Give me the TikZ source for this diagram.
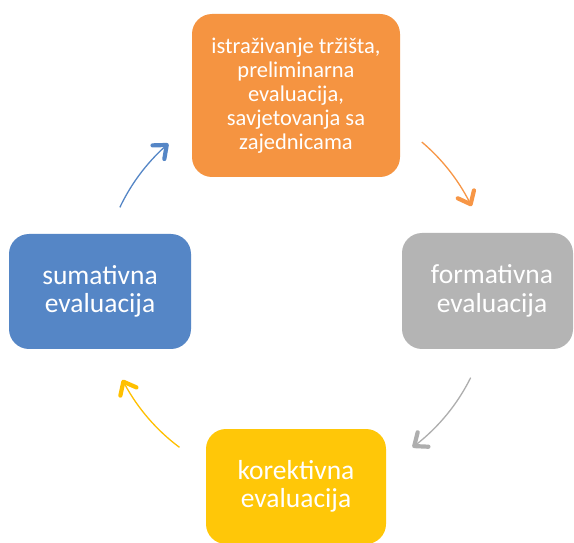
\documentclass[tikz,border=0pt]{standalone}
\usepackage{fontspec}
\setmainfont{Carlito}
\usetikzlibrary{arrows.meta,bending}
\definecolor{cOrange}{HTML}{F59441}
\definecolor{cGray}{HTML}{B4B4B4}
\definecolor{cYellow}{HTML}{FFC708}
\definecolor{cBlue}{HTML}{5586C6}
\definecolor{aOrange}{HTML}{F79646}
\definecolor{aGray}{HTML}{AEAEAE}
\definecolor{aYellow}{HTML}{FFC000}
\definecolor{aBlue}{HTML}{5586C6}
\begin{document}
\begin{tikzpicture}[x=1pt,y=1pt,
  box/.style={draw=none, rounded corners=20pt, inner sep=0pt, align=center, text=white},
  bigtxt/.style={font=\fontsize{27.5}{28.5}\selectfont},
  smalltxt/.style={font=\fontsize{22.5}{24}\selectfont},
  cyc/.style={line width=1.3pt, -{Straight Barb[length=11pt,width=18pt,line width=4.2pt,round,flex]}}]
\useasboundingbox (0,0) rectangle (574,542);
\clip (0,0) rectangle (574,542);
\fill[white] (0,0) rectangle (574,542);

\node[box, smalltxt, fill=cOrange, minimum width=208pt, minimum height=163pt] (top) at (296,446.5)
  {istraživanje tržišta,\\preliminarna\\evaluacija,\\savjetovanja sa\\zajednicama};
\node[box, bigtxt, fill=cGray, minimum width=171pt, minimum height=116pt] (right) at (487.5,251)
  {\hspace*{9pt}formativna\\\hspace*{9pt}evaluacija};
\node[box, bigtxt, fill=cYellow, minimum width=180pt, minimum height=115pt] (bottom) at (296,55.5)
  {korektivna\\evaluacija};
\node[box, bigtxt, fill=cBlue, minimum width=182pt, minimum height=115pt] (left) at (100,250.5)
  {sumativna\\evaluacija};

\coordinate (C) at (296,251);
\draw[cyc, aOrange] (C) ++(49.8:195) arc[start angle=49.8, end angle=25.8, radius=195];
\draw[cyc, aGray] (C) ++(-26.4:195) arc[start angle=-26.4, end angle=-53.3, radius=195];
\draw[cyc, aYellow] (C) ++(-126.7:195) arc[start angle=-126.7, end angle=-152.9, radius=195];
\draw[cyc, aBlue] (C) ++(154.6:195) arc[start angle=154.6, end angle=130.9, radius=195];
\end{tikzpicture}
\end{document}
